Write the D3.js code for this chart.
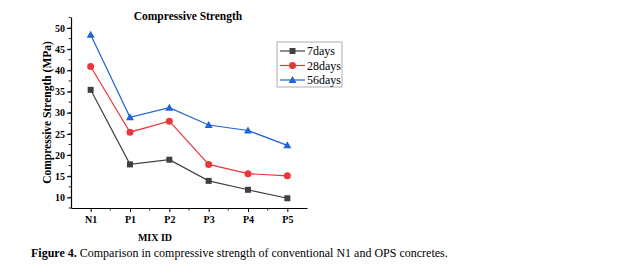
<!DOCTYPE html>
<html>
<head>
<meta charset="utf-8">
<script src="https://cdn.jsdelivr.net/npm/d3@7"></script>
<style>
  body { margin: 0; background: #fff; }
  svg text { font-family: "Liberation Serif", "Times New Roman", serif; }
</style>
</head>
<body>
<div class="render"></div>
<script>
'use strict';

var mixIds = ['N1', 'P1', 'P2', 'P3', 'P4', 'P5'];
var days7 = [35.4, 17.8, 18.9, 13.9, 11.8, 9.8];
var days28 = [40.9, 25.4, 28.0, 17.8, 15.6, 15.1];
var days56 = [48.4, 28.9, 31.2, 27.1, 25.8, 22.3];
var seriesNames = ['7days', '28days', '56days'];
var yTicks = [10, 15, 20, 25, 30, 35, 40, 45, 50];

function draw() {
   var w = 642;
   var h = 273;
   var left = 71, right = 307, top = 17, bottom = 208;

   var colors = ['#404040', '#e8383b', '#1f63d6'];
   var series = [days7, days28, days56];

   var svg = d3.select('.render').append('svg').attr('width', w).attr('height', h);

   var xScale = d3.scalePoint().domain(mixIds).range([left, right]).padding(0.5);
   var yScale = d3.scaleLinear().domain([7.5, 52.6]).range([bottom, top]);

   // minor ticks
   var minorY = d3.range(7.5, 52.6, 2.5);
   svg.append('g').selectAll('line').data(minorY).enter().append('line')
      .attr('x1', left).attr('x2', left - 2.5)
      .attr('y1', function (d) { return yScale(d); }).attr('y2', function (d) { return yScale(d); })
      .attr('stroke', '#000').attr('stroke-width', 0.8);
   var step = xScale.step();
   var minorX = mixIds.map(function (d) { return xScale(d) + step / 2; });
   svg.append('g').selectAll('line').data(minorX.slice(0, 5)).enter().append('line')
      .attr('x1', function (d) { return d; }).attr('x2', function (d) { return d; })
      .attr('y1', bottom).attr('y2', bottom + 2.5)
      .attr('stroke', '#000').attr('stroke-width', 0.8);

   var yAxis = d3.axisLeft(yScale).tickValues(yTicks).tickSize(4).tickPadding(2).tickSizeOuter(0);
   var xAxis = d3.axisBottom(xScale).tickSize(4).tickPadding(4).tickSizeOuter(0);
   var gy = svg.append('g').attr('transform', 'translate(' + left + ',0)').call(yAxis);
   var gx = svg.append('g').attr('transform', 'translate(0,' + bottom + ')').call(xAxis);
   [gx, gy].forEach(function (g) {
      g.select('.domain').attr('stroke', '#000').attr('stroke-width', 1.2);
      g.selectAll('.tick line').attr('stroke', '#000').attr('stroke-width', 1);
      g.selectAll('text').style('font-family', 'Liberation Serif, serif')
         .style('font-size', '10px').style('font-weight', 'bold').attr('fill', '#000');
   });

   var line = d3.line().x(function (d, i) { return xScale(mixIds[i]); }).y(function (d) { return yScale(d); });

   function marker(g, kind, x, y, c) {
      if (kind === 0) {
         g.append('rect').attr('x', x - 3).attr('y', y - 3).attr('width', 6).attr('height', 6).attr('fill', c);
      } else if (kind === 1) {
         g.append('circle').attr('cx', x).attr('cy', y).attr('r', 3.5).attr('fill', c);
      } else {
         g.append('path').attr('d', 'M' + x + ',' + (y - 4) + 'L' + (x + 4) + ',' + (y + 3) + 'L' + (x - 4) + ',' + (y + 3) + 'Z').attr('fill', c);
      }
   }

   series.forEach(function (s, k) {
      var g = svg.append('g');
      g.append('path').datum(s).attr('d', line).attr('fill', 'none').attr('stroke', colors[k]).attr('stroke-width', 1.2);
      s.forEach(function (v, i) {
         marker(g, k, xScale(mixIds[i]), yScale(v), colors[k]);
      });
   });

   // legend
   var lg = svg.append('g');
   lg.append('rect').attr('x', 277).attr('y', 42).attr('width', 65).attr('height', 45)
      .attr('fill', '#fff').attr('stroke', '#999').attr('stroke-width', 0.8);
   seriesNames.forEach(function (name, k) {
      var y = 51 + k * 14.5;
      lg.append('line').attr('x1', 280).attr('x2', 305).attr('y1', y).attr('y2', y)
         .attr('stroke', colors[k]).attr('stroke-width', 1.2);
      marker(lg, k, 292.5, y, colors[k]);
      lg.append('text').text(name).attr('x', 307).attr('y', y + 4)
         .style('font-size', '12px').attr('fill', '#000');
   });

   svg.append('text').text('Compressive Strength').attr('x', 188).attr('y', 20)
      .attr('text-anchor', 'middle').style('font-size', '11.5px').style('font-weight', 'bold');

   svg.append('text').text('Compressive Strength (MPa)')
      .attr('transform', 'translate(51,' + (top + bottom) / 2 + ')rotate(-90)')
      .attr('text-anchor', 'middle').style('font-size', '11.5px').style('font-weight', 'bold');

   svg.append('text').text('MIX ID').attr('x', 155).attr('y', 241)
      .attr('text-anchor', 'middle').style('font-size', '10px').style('font-weight', 'bold');

   var cap = svg.append('text').attr('x', 31).attr('y', 257).style('font-size', '12px');
   cap.append('tspan').text('Figure 4.').style('font-weight', 'bold');
   cap.append('tspan').text(' Comparison in compressive strength of conventional N1 and OPS concretes.');
}
draw();
</script>
</body>
</html>
